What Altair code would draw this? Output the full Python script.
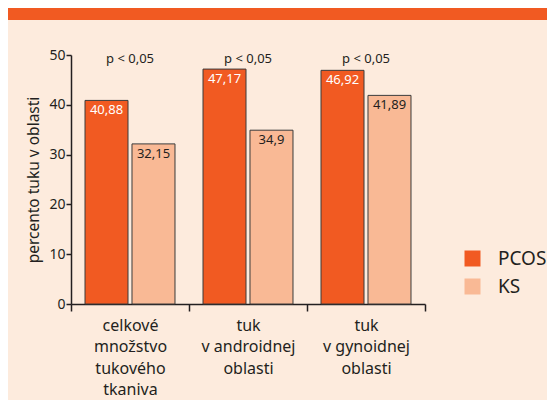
import altair as alt
import pandas as pd

categories = ["celkové|množstvo|tukového|tkaniva", "tuk|v androidnej|oblasti", "tuk|v gynoidnej|oblasti"]
groups = ["PCOS", "KS"]
pcos_values = [40.88, 47.17, 46.92]
ks_values = [32.15, 34.9, 41.89]
pcos_labels = ["40,88", "47,17", "46,92"]
ks_labels = ["32,15", "34,9", "41,89"]
p_labels = ["p < 0,05", "p < 0,05", "p < 0,05"]
p_level = [50, 50, 50]

ORANGE = "#F15A22"
PEACH = "#F9B995"
CREAM = "#FDEBDD"
DARK = "#231F20"
FONT = "Noto Sans"

rows = []
for c, v, l in zip(categories, pcos_values, pcos_labels):
    rows.append({"category": c, "group": "PCOS", "value": v, "label": l})
for c, v, l in zip(categories, ks_values, ks_labels):
    rows.append({"category": c, "group": "KS", "value": v, "label": l})
df = pd.DataFrame(rows)
pdf = pd.DataFrame({"category": categories, "p": p_labels, "lvl": p_level})

x_enc = alt.X(
    "category:N", sort=categories,
    scale=alt.Scale(paddingInner=0, paddingOuter=0),
    axis=alt.Axis(
        title=None, labelExpr="split(datum.label, '|')", labelAngle=0,
        tickBand="extent", tickSize=7, labelFontSize=16, labelLineHeight=21.5,
        labelPadding=6, labelBaseline="top", labelColor=DARK,
        domainColor=DARK, tickColor=DARK, domainWidth=1.5, tickWidth=1.5,
    ),
)
xoff = alt.XOffset("group:N", sort=groups, scale=alt.Scale(domain=groups, paddingInner=0.085, paddingOuter=0.298))
y_scale = alt.Scale(domain=[0, 50], nice=False)

bars = alt.Chart(df).mark_bar(stroke="#3b3b3b", strokeWidth=1).encode(
    x=x_enc,
    xOffset=xoff,
    y=alt.Y("value:Q", scale=y_scale, axis=alt.Axis(
        title="percento tuku v oblasti", values=[0, 10, 20, 30, 40, 50], grid=False,
        tickSize=5, labelFontSize=14, titleFontSize=15.5, titleFontWeight="normal",
        labelColor=DARK, titleColor=DARK, domainColor=DARK, tickColor=DARK,
        domainWidth=1.5, tickWidth=1.5, labelPadding=1, titlePadding=7,
    )),
    color=alt.Color("group:N", sort=groups, scale=alt.Scale(domain=groups, range=[ORANGE, PEACH]),
                    legend=alt.Legend(title=None, orient="none", legendX=392, legendY=194,
                                      symbolType="square", symbolSize=256, symbolStrokeWidth=0,
                                      labelFontSize=19, labelColor=DARK, labelOffset=16,
                                      rowPadding=8)),
)

labels = alt.Chart(df).mark_text(baseline="top", dy=4, fontSize=13).encode(
    x=alt.X("category:N", sort=categories),
    xOffset=alt.XOffset("group:N", sort=groups),
    y=alt.Y("value:Q"),
    text="label:N",
    color=alt.condition(alt.datum.group == "PCOS", alt.value("white"), alt.value(DARK)),
)

ptext = alt.Chart(pdf).mark_text(baseline="middle", dy=4, fontSize=13, color=DARK).encode(
    x=alt.X("category:N", sort=categories),
    y=alt.Y("lvl:Q"),
    text="p:N",
)

header = alt.Chart(pd.DataFrame({"h": [0]})).mark_rect(color=ORANGE).encode(
    x=alt.value(-63), x2=alt.value(476), y=alt.value(-47), y2=alt.value(-35)
)

chart = alt.layer(header, bars, labels, ptext).properties(
    width=354, height=249,
    autosize=alt.AutoSizeParams(type="none"),
    padding={"left": 63, "top": 47, "right": 122, "bottom": 96},
    background=CREAM,
).configure(font=FONT).configure_view(stroke=None)

chart.save("out.html", embed_options={"renderer": "svg", "actions": False})
